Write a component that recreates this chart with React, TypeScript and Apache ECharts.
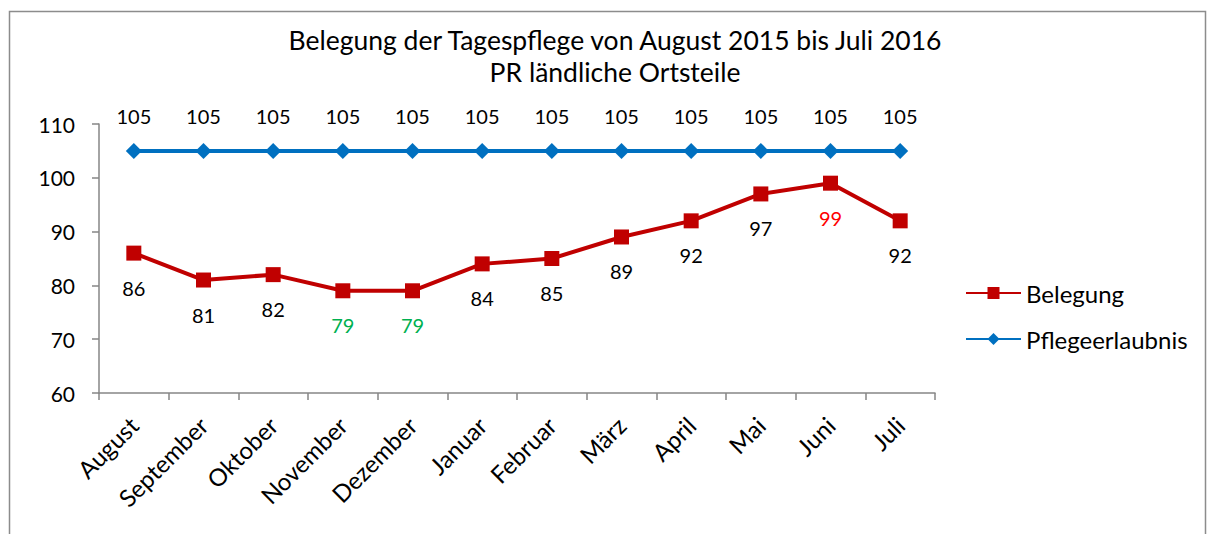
import React, { useEffect, useRef } from "react";
import * as echarts from "echarts";

const months = [
  "August", "September", "Oktober", "November", "Dezember", "Januar",
  "Februar", "März", "April", "Mai", "Juni", "Juli",
];
const belegung = [86, 81, 82, 79, 79, 84, 85, 89, 92, 97, 99, 92];
const pflegeerlaubnis = [105, 105, 105, 105, 105, 105, 105, 105, 105, 105, 105, 105];
const yTicks = { min: 60, max: 110, interval: 10 };

const FONT = "Lato, 'Noto Sans', sans-serif";
const labelHighlight: Record<number, string> = { 3: "#00B050", 4: "#00B050", 10: "#FF0000" };

export default function App() {
  const ref = useRef<HTMLDivElement>(null);
  useEffect(() => {
    if (!ref.current) return;
    const chart = echarts.init(ref.current, undefined, { renderer: "svg" });
    chart.setOption({
      animation: false,
      backgroundColor: "#ffffff",
      textStyle: { fontFamily: FONT },
      graphic: [
        {
          type: "rect",
          shape: { x: 9.5, y: 11.5, width: 1196, height: 560 },
          style: { fill: "none", stroke: "#8c8c8c", lineWidth: 1.5 },
          silent: true,
        },
      ],
      title: {
        text: "Belegung der Tagespflege von August 2015 bis Juli 2016\nPR ländliche Ortsteile",
        left: 610,
        textAlign: "center",
        top: 19,
        textStyle: {
          fontFamily: FONT,
          fontSize: 26.5,
          fontWeight: "normal",
          color: "#000",
          lineHeight: 32,
        },
      },
      legend: {
        orient: "vertical",
        left: 960,
        top: 276,
        itemGap: 22,
        itemWidth: 55,
        itemHeight: 15,
        data: ["Belegung", "Pflegeerlaubnis"],
        textStyle: { fontFamily: FONT, fontSize: 24, color: "#000" },
      },
      grid: { left: 99, right: 276, top: 124, bottom: 141 },
      xAxis: {
        type: "category",
        data: months,
        boundaryGap: true,
        axisLine: { lineStyle: { color: "#868686", width: 1.5 } },
        axisTick: { show: true, length: 7, lineStyle: { color: "#868686", width: 1.5 } },
        axisLabel: {
          rotate: 45,
          interval: 0,
          margin: 28,
          fontFamily: FONT,
          fontSize: 24,
          color: "#000",
        },
      },
      yAxis: {
        type: "value",
        min: yTicks.min,
        max: yTicks.max,
        interval: yTicks.interval,
        axisLine: { show: true, lineStyle: { color: "#868686", width: 1.5 } },
        axisTick: { show: true, length: 7, lineStyle: { color: "#868686", width: 1.5 } },
        splitLine: { show: false },
        axisLabel: { margin: 24, fontFamily: FONT, fontSize: 21, color: "#000" },
      },
      series: [
        {
          name: "Belegung",
          type: "line",
          data: belegung.map((v, i) =>
            labelHighlight[i] ? { value: v, label: { color: labelHighlight[i] } } : v
          ),
          symbol: "rect",
          symbolSize: 15,
          lineStyle: { color: "#C00000", width: 4 },
          itemStyle: { color: "#C00000" },
          label: {
            show: true,
            position: "bottom",
            distance: 17,
            fontFamily: FONT,
            fontSize: 20,
            color: "#000",
          },
          z: 3,
        },
        {
          name: "Pflegeerlaubnis",
          type: "line",
          data: pflegeerlaubnis,
          symbol: "diamond",
          symbolSize: 16,
          lineStyle: { color: "#0070C0", width: 4 },
          itemStyle: { color: "#0070C0" },
          label: {
            show: true,
            position: "top",
            distance: 17,
            fontFamily: FONT,
            fontSize: 20,
            color: "#000",
          },
          z: 2,
        },
      ],
    });
    return () => chart.dispose();
  }, []);
  return (
    <div
      ref={ref}
      style={{ position: "fixed", left: 0, top: 0, width: 1211, height: 534 }}
    />
  );
}
